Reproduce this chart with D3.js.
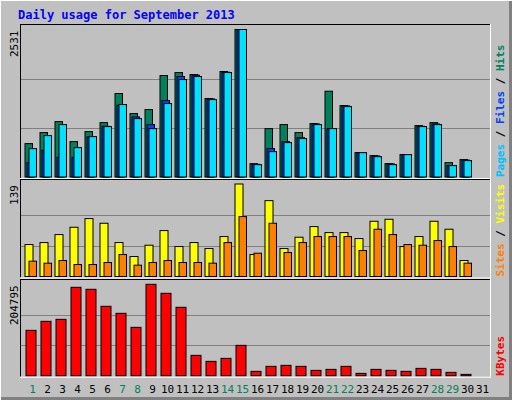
<!DOCTYPE html>
<html><head><meta charset="utf-8">
<script src="https://cdn.jsdelivr.net/npm/d3@7"></script>
<style>body{margin:0;background:#fff}svg{display:block}text{font-family:"DejaVu Sans Mono",monospace}</style>
</head><body>
<script>
var days = d3.range(1, 32)
var weekends = [1, 7, 8, 14, 15, 21, 22, 28, 29]
var hits = [573, 762, 950, 607, 779, 933, 1432, 1088, 1157, 1741, 1792, 1758, 1346, 1810, 2531, 229, 830, 899, 762, 916, 1472, 1225, 418, 366, 229, 384, 882, 933, 246, 298, 0]
var files = [246, 458, 338, 338, 687, 870, 1231, 1031, 899, 1311, 1724, 1747, 1340, 1798, 2531, 218, 487, 607, 676, 910, 830, 1220, 418, 361, 224, 384, 870, 910, 195, 290, 0]
var pages = [487, 710, 899, 504, 693, 865, 1243, 1002, 830, 1260, 1672, 1724, 1328, 1792, 2531, 212, 435, 590, 659, 899, 830, 1208, 418, 349, 212, 384, 865, 899, 195, 281, 0]
var visits = [48, 51, 63, 74, 87, 80, 51, 30, 47, 69, 45, 51, 42, 60, 139, 33, 114, 42, 59, 75, 66, 66, 57, 83, 86, 45, 60, 83, 71, 24, 0]
var sites = [23, 20, 24, 18, 18, 21, 33, 17, 21, 24, 21, 21, 20, 51, 90, 35, 80, 36, 51, 60, 60, 60, 39, 71, 63, 48, 47, 54, 45, 20, 0]
var kbytes = [101650, 121830, 126310, 198070, 193580, 155470, 139770, 108380, 204795, 184620, 153220, 45590, 32140, 38870, 68020, 9720, 20930, 23170, 20930, 11960, 14200, 20930, 5230, 14200, 11960, 9720, 16440, 14200, 7470, 2990, 0]

var W = 512, H = 400
var svg = d3.select('body').append('svg').attr('width', W).attr('height', H)

svg.append('rect').attr('width', W).attr('height', H).attr('fill', '#c0c0c0')
svg.append('line').attr('x1', W - 1.5).attr('x2', W - 1.5).attr('y1', 0).attr('y2', H).attr('stroke', '#808080').attr('stroke-width', 3)
svg.append('line').attr('x1', 0).attr('x2', W).attr('y1', H - 1.5).attr('y2', H - 1.5).attr('stroke', '#808080').attr('stroke-width', 3)
svg.append('line').attr('x1', 0.5).attr('x2', 0.5).attr('y1', 0).attr('y2', H).attr('stroke', '#fff')
svg.append('line').attr('x1', 0).attr('x2', W).attr('y1', 0.5).attr('y2', 0.5).attr('stroke', '#fff')

svg.append('text').attr('x', 18).attr('y', 19).attr('fill', '#0000ff')
  .attr('font-size', 12).attr('font-weight', 'bold').text('Daily usage for September 2013')

var x = d3.scaleLinear().domain([1, 32]).range([25, 490])

var panels = [
  { top: 25, bottom: 177, maxTop: 29.5, max: 2531, label: '2531',
    series: [{ v: hits, c: '#00805c', dx: 0, w: 7.5 }, { v: files, c: '#0040ff', dx: 2, w: 7.5 }, { v: pages, c: '#00e0ff', dx: 4, w: 7.5 }],
    legend: [['Pages', '#00c0ff'], ['Files', '#0040ff'], ['Hits', '#00805c']] },
  { top: 180, bottom: 276.5, maxTop: 184, max: 139, label: '139',
    series: [{ v: visits, c: '#ffff00', dx: 0, w: 8 }, { v: sites, c: '#ff8000', dx: 4, w: 7.5 }],
    legend: [['Sites', '#ff8000'], ['Visits', '#ffff00']] },
  { top: 280, bottom: 375.7, maxTop: 284.3, max: 204795, label: '204795',
    series: [{ v: kbytes, c: '#ff0000', dx: 1, w: 10 }],
    legend: [['KBytes', '#ff0000']] }
]

panels.forEach(function (p) {
  var y = d3.scaleLinear().domain([0, p.max]).range([p.bottom, p.maxTop])
  var g = svg.append('g')
  g.append('line').attr('x1', 20).attr('x2', 491).attr('y1', p.top - 0.5).attr('y2', p.top - 0.5).attr('stroke', '#000')
  g.append('line').attr('x1', 20.5).attr('x2', 20.5).attr('y1', p.top - 1).attr('y2', p.bottom + 1).attr('stroke', '#000')
  g.append('line').attr('x1', 490.5).attr('x2', 490.5).attr('y1', p.top - 1).attr('y2', p.bottom + 2).attr('stroke', '#fff')
  g.append('line').attr('x1', 20).attr('x2', 491).attr('y1', p.bottom + 1.5).attr('y2', p.bottom + 1.5).attr('stroke', '#fff')
  g.selectAll('.grid').data([p.max / 3, p.max * 2 / 3]).enter().append('line')
    .attr('x1', 21).attr('x2', 490).attr('y1', function (d) { return Math.round(y(d)) + 0.5 })
    .attr('y2', function (d) { return Math.round(y(d)) + 0.5 }).attr('stroke', '#808080')
  p.series.forEach(function (s) {
    g.selectAll(null).data(days.filter(function (d) { return s.v[d - 1] > 0 })).enter().append('rect')
      .attr('x', function (d) { return x(d) + s.dx })
      .attr('y', function (d) { return y(s.v[d - 1]) })
      .attr('width', s.w)
      .attr('height', function (d) { return Math.max(0.5, p.bottom - y(s.v[d - 1])) })
      .attr('fill', s.c).attr('stroke', '#000').attr('stroke-width', 1)
  })
  g.append('text').attr('transform', 'translate(18,' + (p.maxTop + 1) + ') rotate(-90)')
    .attr('text-anchor', 'end').attr('font-size', 11).attr('fill', '#000').text(p.label)
  var t = g.append('text').attr('transform', 'translate(503,' + p.top + ') rotate(90)')
    .attr('font-size', 11).attr('font-weight', 'bold')
  t.attr('transform', 'translate(504,' + (p.bottom) + ') rotate(-90)')
  p.legend.forEach(function (l, i) {
    if (i > 0) t.append('tspan').attr('fill', '#000').text(' / ')
    t.append('tspan').attr('fill', l[1]).text(l[0])
  })
})

svg.selectAll('.day').data(days).enter().append('text')
  .attr('x', function (d) { return x(d) + 7.5 }).attr('y', 393)
  .attr('text-anchor', 'middle').attr('font-size', 11)
  .attr('fill', function (d) { return weekends.indexOf(d) >= 0 ? '#00805c' : '#000' })
  .text(function (d) { return d })
</script>
</body></html>
